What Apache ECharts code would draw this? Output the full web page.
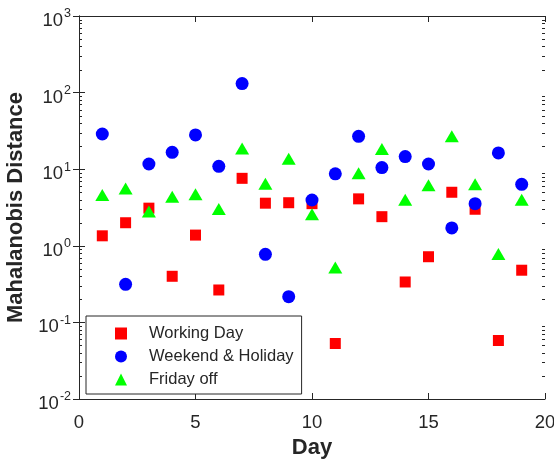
<!DOCTYPE html>
<html>
<head>
<meta charset="utf-8">
<script src="https://cdn.jsdelivr.net/npm/echarts@6/dist/echarts.min.js"></script>
<style>html,body{margin:0;padding:0;background:#fff;}#c{width:554px;height:464px;}</style>
</head>
<body>
<div id="c"></div>
<script>
// ---- data ----
const days = [1,2,3,4,5,6,7,8,9,10,11,12,13,14,15,16,17,18,19];
const workingDay = [1.35, 2.0, 3.1, 0.40, 1.38, 0.265, 7.6, 3.6, 3.65, 3.55, 0.053, 4.1, 2.4, 0.337, 0.72, 5.0, 3.0, 0.058, 0.48];
const weekendHoliday = [28.8, 0.314, 11.7, 16.6, 28, 10.9, 131, 0.774, 0.217, 3.96, 8.7, 26.9, 10.5, 14.6, 11.7, 1.71, 3.55, 16.3, 6.35];
const fridayOff = [4.6, 5.6, 2.8, 4.37, 4.7, 3.02, 18.7, 6.47, 13.7, 2.58, 0.52, 8.84, 18.3, 4.0, 6.16, 26.9, 6.35, 0.78, 4.0];
const seriesNames = ['Working Day', 'Weekend & Holiday', 'Friday off'];
const xTicks = [0, 5, 10, 15, 20];
const yDecades = [-2, -1, 0, 1, 2, 3];
const minorMultipliers = [2,3,4,5,6,7,8,9];

const FONT = '"Liberation Sans", Arial, Helvetica, sans-serif';
const AX = '#262626';

function pairs(xs, ys){ return xs.map((x,i)=>[x, ys[i]]); }

// minor tick values on log axis (axis decoration)
const minorVals = [];
for (let k = yDecades[0]; k < yDecades[yDecades.length-1]; k++) {
  minorMultipliers.forEach(m => minorVals.push([0, m * Math.pow(10, k)]));
}

const chart = echarts.init(document.getElementById('c'), null, {renderer: 'canvas'});
const yMin = Math.pow(10, yDecades[0]);
const yMax = Math.pow(10, yDecades[yDecades.length-1]);

const yLabel = {
  show: true,
  margin: 8,
  color: AX,
  fontFamily: FONT,
  formatter: function(v){
    const e = Math.round(Math.log10(v));
    return '{b|10}{s|' + e + '}';
  },
  rich: {
    b: {fontSize: 18.5, fontFamily: FONT, color: AX, padding: [10,0,0,0]},
    s: {fontSize: 12.5, fontFamily: FONT, color: AX, verticalAlign: 'top', padding: [6,0,0,1]}
  }
};

chart.setOption({
  animation: false,
  backgroundColor: '#fff',
  textStyle: {fontFamily: FONT},
  grid: {left: 79, right: 9, top: 16, bottom: 65, containLabel: false, outerBoundsMode: 'none'},
  legend: {
    data: seriesNames,
    orient: 'vertical',
    left: 86, top: 316,
    padding: [9, 8, 6, 29],
    itemWidth: 12, itemHeight: 12, itemGap: 6,
    borderColor: AX, borderWidth: 1,
    backgroundColor: '#fff',
    textStyle: {fontSize: 16.5, color: AX, fontFamily: FONT, padding: [0, 0, 0, 17]},
    selectedMode: false
  },
  xAxis: [{
    type: 'value', min: xTicks[0], max: xTicks[xTicks.length-1], interval: 5,
    position: 'bottom',
    axisLine: {show: true, lineStyle: {color: AX, width: 1}},
    axisTick: {show: true, inside: true, length: 6, lineStyle: {color: AX}},
    splitLine: {show: false},
    axisLabel: {fontSize: 18.5, color: AX, margin: 14, fontFamily: FONT},
    name: 'Day', nameLocation: 'middle', nameGap: 38,
    nameTextStyle: {fontSize: 22, fontWeight: 'bold', color: AX, fontFamily: FONT}
  }, {
    type: 'value', min: xTicks[0], max: xTicks[xTicks.length-1], interval: 5,
    position: 'top',
    axisLine: {show: true, lineStyle: {color: AX, width: 1}},
    axisTick: {show: true, inside: true, length: 6, lineStyle: {color: AX}},
    splitLine: {show: false},
    axisLabel: {show: false}
  }],
  yAxis: [{
    type: 'log', logBase: 10, min: yMin, max: yMax, interval: 1,
    position: 'left',
    axisLine: {show: true, lineStyle: {color: AX, width: 1}},
    axisTick: {show: true, inside: true, length: 6, lineStyle: {color: AX}},
    splitLine: {show: false},
    minorTick: {show: false},
    axisLabel: yLabel,
    name: 'Mahalanobis Distance', nameLocation: 'middle', nameGap: 50,
    nameTextStyle: {fontSize: 22, fontWeight: 'bold', color: AX, fontFamily: FONT}
  }, {
    type: 'log', logBase: 10, min: yMin, max: yMax, interval: 1,
    position: 'right',
    axisLine: {show: true, lineStyle: {color: AX, width: 1}},
    axisTick: {show: true, inside: true, length: 6, lineStyle: {color: AX}},
    splitLine: {show: false},
    axisLabel: {show: false}
  }],
  series: [{
    type: 'custom',
    name: 'minorTicks',
    silent: true,
    xAxisIndex: 0, yAxisIndex: 0,
    data: minorVals,
    encode: {x: 0, y: 1},
    z: 1,
    renderItem: function(params, api){
      const p = api.coord([0, api.value(1)]);
      const cs = params.coordSys;
      const y = Math.round(p[1]) + 0.5;
      return {
        type: 'group',
        children: [
          {type: 'line', shape: {x1: cs.x, y1: y, x2: cs.x + 3, y2: y}, style: {stroke: AX, lineWidth: 1}},
          {type: 'line', shape: {x1: cs.x + cs.width - 3, y1: y, x2: cs.x + cs.width, y2: y}, style: {stroke: AX, lineWidth: 1}}
        ]
      };
    }
  }, {
    type: 'scatter', name: seriesNames[0],
    data: pairs(days, workingDay),
    symbol: 'rect', symbolSize: 11,
    itemStyle: {color: '#ff0000', opacity: 1}, z: 2
  }, {
    type: 'scatter', name: seriesNames[1],
    data: pairs(days, weekendHoliday),
    symbol: 'circle', symbolSize: 13,
    itemStyle: {color: '#0000ff', opacity: 1}, z: 3
  }, {
    type: 'scatter', name: seriesNames[2],
    data: pairs(days, fridayOff),
    symbol: 'triangle', symbolSize: [14, 12],
    itemStyle: {color: '#00ff00', opacity: 1}, z: 4
  }]
});
</script>
</body>
</html>
